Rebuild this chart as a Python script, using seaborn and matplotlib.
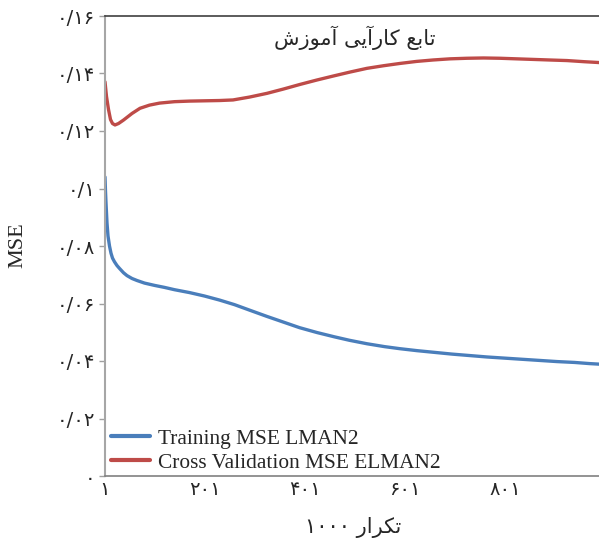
import pandas as pd
import numpy as np
import matplotlib
matplotlib.use("Agg")
import matplotlib.pyplot as plt
import seaborn as sns

# values
train_iter = [1, 2, 3, 5, 7, 10, 13, 16, 20, 25, 30, 38, 45, 55, 65, 80, 100, 120,
              140, 170, 200, 230, 260, 290, 325, 360, 390, 425, 460, 490, 525, 560,
              590, 625, 660, 695, 730, 765, 800, 835, 870, 905, 940, 970, 1000]
train_mse = [0.104, 0.099, 0.095, 0.088, 0.0835, 0.0800, 0.0775, 0.0758, 0.0745,
             0.0732, 0.0722, 0.0707, 0.0697, 0.0687, 0.0680, 0.0671, 0.0663, 0.0656,
             0.0648, 0.0638, 0.0626, 0.0612, 0.0596, 0.0577, 0.0555, 0.0534, 0.0516,
             0.0499, 0.0484, 0.0472, 0.0460, 0.0450, 0.0443, 0.0436, 0.0430, 0.0424,
             0.0419, 0.0414, 0.0410, 0.0406, 0.0402, 0.0398, 0.0395, 0.0391, 0.0388]

cv_iter = [1, 4, 8, 12, 16, 21, 28, 38, 55, 71, 90, 110, 140, 170, 200, 230, 257,
           290, 325, 358, 391, 424, 457, 491, 525, 558, 591, 624, 657, 691, 725,
           758, 791, 824, 857, 890, 925, 960, 1000]
cv_mse = [0.1371, 0.1320, 0.1275, 0.1240, 0.1226, 0.1221, 0.1226, 0.1238, 0.1261,
          0.1279, 0.1290, 0.1297, 0.1302, 0.1304, 0.1305, 0.1306, 0.1308, 0.1318,
          0.1331, 0.1346, 0.1362, 0.1377, 0.1391, 0.1405, 0.1418, 0.1427, 0.1435,
          0.1442, 0.1447, 0.1451, 0.1453, 0.1454, 0.1453, 0.1451, 0.1449, 0.1447,
          0.1445, 0.1441, 0.1437]

series_names = ["Training MSE LMAN2", "Cross Validation MSE ELMAN2"]
series_colors = ["#4a7ebb", "#be4b48"]

ytick_vals = [0, 0.02, 0.04, 0.06, 0.08, 0.1, 0.12, 0.14, 0.16]
ytick_labels = ["۰", "۰/۰۲", "۰/۰۴", "۰/۰۶", "۰/۰۸", "۰/۱", "۰/۱۲", "۰/۱۴", "۰/۱۶"]
xtick_vals = [1, 201, 401, 601, 801]
xtick_labels = ["۱", "۲۰۱", "۴۰۱", "۶۰۱", "۸۰۱"]

title_text = "تابع کارآیی آموزش"
xlabel_word = "تکرار"
xlabel_num = "۱۰۰۰"

# minimal persian shaping (matplotlib does no joining / bidi)
FORMS = {
    "ت": "\uFE95\uFE96\uFE97\uFE98", "ب": "\uFE8F\uFE90\uFE91\uFE92",
    "ع": "\uFEC9\uFECA\uFECB\uFECC", "ک": "\uFB8E\uFB8F\uFB90\uFB91",
    "ی": "\uFBFC\uFBFD\uFBFE\uFBFF", "م": "\uFEE1\uFEE2\uFEE3\uFEE4",
    "ش": "\uFEB5\uFEB6\uFEB7\uFEB8",
    "ا": "\uFE8D\uFE8E", "ر": "\uFEAD\uFEAE", "آ": "\uFE81\uFE82",
    "و": "\uFEED\uFEEE", "ز": "\uFEAF\uFEB0",
}


def shape_word(w):
    out = []
    for i, ch in enumerate(w):
        if ch not in FORMS:
            out.append(ch)
            continue
        prev = w[i - 1] if i > 0 else ""
        nxt = w[i + 1] if i + 1 < len(w) else ""
        jp = prev in FORMS and len(FORMS[prev]) == 4
        jn = len(FORMS[ch]) == 4 and nxt in FORMS
        f = FORMS[ch]
        if jp and jn:
            out.append(f[3])
        elif jp:
            out.append(f[1])
        elif jn:
            out.append(f[2])
        else:
            out.append(f[0])
    return "".join(out[::-1])


def rtl(text):
    return " ".join(shape_word(w) for w in text.split(" ")[::-1])


df = pd.concat([
    pd.DataFrame({"iter": train_iter, "mse": train_mse, "series": series_names[0]}),
    pd.DataFrame({"iter": cv_iter, "mse": cv_mse, "series": series_names[1]}),
])

sns.set_style("white")
plt.rcParams["font.family"] = ["DejaVu Sans"]

fig = plt.figure(figsize=(5.99, 5.39), dpi=100)
ax = fig.add_axes([105 / 599, 1 - 476 / 539, 499.5 / 599, 460 / 539])

sns.lineplot(data=df, x="iter", y="mse", hue="series", hue_order=series_names,
             palette=series_colors, linewidth=2.4, ax=ax, sort=False)

ax.set_xlim(1, 1000)
ax.set_ylim(0, 0.16)
ax.set_yticks(ytick_vals)
ax.set_yticklabels(ytick_labels, fontsize=14)
ax.set_xticks(xtick_vals)
ax.set_xticklabels(xtick_labels, fontsize=14)
ax.tick_params(axis="y", length=4, width=1, color="#a0a0a0", pad=3, left=True)
ax.tick_params(axis="x", length=0, pad=3)
ax.set_xlabel("")
ax.set_ylabel("")

ax.spines["right"].set_visible(False)
ax.spines["left"].set_color("#a6a6a6")
ax.spines["left"].set_linewidth(1.5)
ax.spines["bottom"].set_color("#808080")
ax.spines["bottom"].set_linewidth(1.2)
ax.spines["top"].set_color("#404040")
ax.spines["top"].set_linewidth(1.2)

leg = ax.legend(loc="lower left", bbox_to_anchor=(0.006, 0.0), frameon=False,
                prop={"family": "Liberation Serif", "size": 15.4},
                handlelength=1.8, handletextpad=0.4, labelspacing=0.2,
                borderpad=0.1, borderaxespad=0.05)
for line in leg.get_lines():
    line.set_linewidth(3)

fig.text(18 / 599, 1 - 245 / 539, "MSE", rotation=90, ha="center", va="center",
         family="Liberation Serif", fontsize=16)
fig.text(355 / 599, 1 - 38 / 539, rtl(title_text), ha="center", va="center",
         fontsize=15)
# number sits left of the word in the reference
fig.text(353 / 599, 1 - 527 / 539, xlabel_num + " " + shape_word(xlabel_word),
         ha="center", va="center", fontsize=15)

fig.savefig("out.png", dpi=100)
